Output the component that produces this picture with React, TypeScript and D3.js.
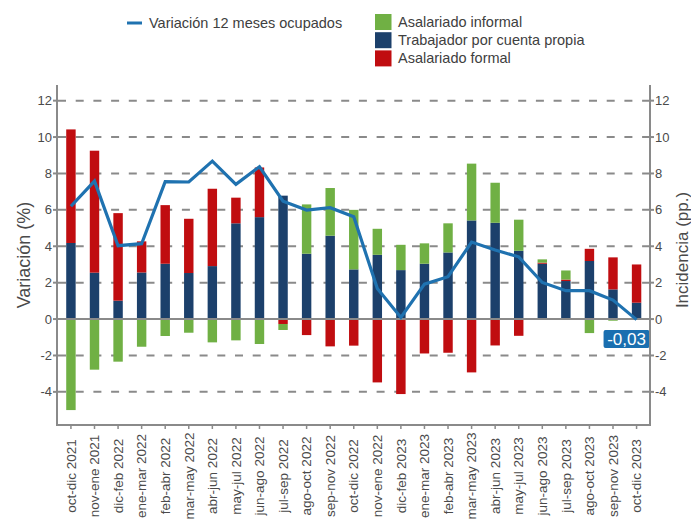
import React from "react";
import * as d3 from "d3";

const categories = ["oct-dic 2021", "nov-ene 2021", "dic-feb 2022", "ene-mar 2022", "feb-abr 2022", "mar-may 2022", "abr-jun 2022", "may-jul 2022", "jun-ago 2022", "jul-sep 2022", "ago-oct 2022", "sep-nov 2022", "oct-dic 2022", "nov-ene 2022", "dic-feb 2023", "ene-mar 2023", "feb-abr 2023", "mar-may 2023", "abr-jun 2023", "may-jul 2023", "jun-ago 2023", "jul-sep 2023", "ago-oct 2023", "sep-nov 2023", "oct-dic 2023"];
const cuentaPropia = [4.18, 2.55, 1.01, 2.56, 3.04, 2.53, 2.91, 5.26, 5.6, 6.78, 3.59, 4.58, 2.73, 3.53, 2.69, 3.04, 3.66, 5.42, 5.29, 3.75, 3.04, 2.09, 3.19, 1.63, 0.9];
const formal = [6.24, 6.7, 4.81, 1.71, 3.22, 2.98, 4.25, 1.41, 2.73, -0.27, -0.88, -1.5, -1.46, -3.48, -4.12, -1.89, -1.85, -2.93, -1.45, -0.92, 0.06, 0.08, 0.67, 1.76, 2.1];
const informal = [-5.0, -2.78, -2.34, -1.52, -0.93, -0.75, -1.28, -1.17, -1.37, -0.33, 2.71, 2.62, 3.27, 1.43, 1.39, 1.12, 1.6, 3.12, 2.2, 1.71, 0.18, 0.5, -0.77, -0.09, 0];
const variacion = [6.2, 7.58, 4.03, 4.14, 7.55, 7.53, 8.68, 7.4, 8.37, 6.48, 5.99, 6.12, 5.62, 1.68, 0.09, 1.92, 2.33, 4.23, 3.79, 3.42, 2.01, 1.56, 1.56, 1.04, -0.03];
const yTicks = [-4, -2, 0, 2, 4, 6, 8, 10, 12];
const lastLabel = "-0,03";

const seriesKeys = ["cuentaPropia", "formal", "informal"];
const seriesColors: Record<string, string> = {
  cuentaPropia: "#1C406B",
  formal: "#C00D10",
  informal: "#70B044",
};
const lineColor = "#1F72B0";
const gridColor = "#8a8a8a";
const textColor = "#4a4a4a";
const FONT = "'Liberation Sans', Arial, sans-serif";

export default function App() {
  const W = 691, H = 521;
  const left = 57, right = 650, top = 85, bottom = 425;

  const rows = categories.map((c, i) => ({
    cat: c,
    cuentaPropia: cuentaPropia[i],
    formal: formal[i],
    informal: informal[i],
  }));

  const x = d3.scaleBand<string>().domain(categories).range([left + 0.5, right]).paddingInner(0.6).paddingOuter(0.37);
  const y = d3.scaleLinear().domain([-5.82, 12.86]).range([bottom, top]);

  const stack = d3.stack<any>().keys(seriesKeys).offset(d3.stackOffsetDiverging);
  const stacked = stack(rows);

  const cx = (c: string) => (x(c) as number) + x.bandwidth() / 2;
  const line = d3.line<number>().x((_, i) => cx(categories[i])).y((d) => y(d));

  const lastX = cx(categories[categories.length - 1]);
  const lastY = y(variacion[variacion.length - 1]);

  return (
    <svg width={W} height={H} style={{ position: "absolute", left: 0, top: 0, fontFamily: FONT }}>
      <rect width={W} height={H} fill="#fff" />
      {/* legend */}
      <g>
        <line x1={127} x2={142} y1={23} y2={23} stroke={lineColor} strokeWidth={3} />
        <text x={149} y={23} dy="0.35em" fontSize={14.5} fill="#404040">Variación 12 meses ocupados</text>
        {[
          ["informal", "Asalariado informal"],
          ["cuentaPropia", "Trabajador por cuenta propia"],
          ["formal", "Asalariado formal"],
        ].map(([k, label], i) => (
          <g key={k}>
            <rect x={375} y={14 + i * 18.2} width={16.5} height={16} fill={seriesColors[k]} />
            <text x={398} y={22 + i * 18.2} dy="0.35em" fontSize={14.5} fill="#404040">{label}</text>
          </g>
        ))}
      </g>
      {/* gridlines */}
      {yTicks.filter((t) => t !== 0).map((t) => (
        <line key={t} x1={left + 1} x2={right} y1={y(t)} y2={y(t)} stroke={gridColor} strokeWidth={2} strokeDasharray="8 9.7" />
      ))}
      {/* bars */}
      {stacked.map((s) => (
        <g key={s.key} fill={seriesColors[s.key]}>
          {s.map((d, i) => {
            const y0 = y(d[0]), y1 = y(d[1]);
            const h = Math.abs(y0 - y1);
            if (h < 0.01) return null;
            return <rect key={i} x={x(categories[i])} width={x.bandwidth()} y={Math.min(y0, y1)} height={h} />;
          })}
        </g>
      ))}
      {/* zero line */}
      <line x1={left} x2={right} y1={y(0)} y2={y(0)} stroke={gridColor} strokeWidth={2} />
      {/* line series */}
      <path d={line(variacion) as string} fill="none" stroke={lineColor} strokeWidth={3.2} strokeLinejoin="miter" />
      {/* last value label */}
      <rect x={lastX - 33} y={lastY + 10.5} width={46} height={18} rx={2} fill="#1A6FB0" />
      <text x={lastX - 10} y={lastY + 19.5} dy="0.36em" textAnchor="middle" fontSize={17} fill="#fff">{lastLabel}</text>
      {/* axes */}
      <line x1={left} x2={left} y1={top} y2={bottom + 1} stroke={gridColor} strokeWidth={2} />
      <line x1={right} x2={right} y1={top} y2={bottom + 1} stroke={gridColor} strokeWidth={2} />
      <line x1={left - 1} x2={right + 1} y1={bottom} y2={bottom} stroke={gridColor} strokeWidth={2} />
      {yTicks.map((t) => (
        <g key={t}>
          <line x1={left - 4} x2={left} y1={y(t)} y2={y(t)} stroke={gridColor} strokeWidth={2} />
          <text x={left - 5} y={y(t)} dy="0.35em" textAnchor="end" fontSize={13} fill={textColor}>{t}</text>
          <line x1={right} x2={right + 4} y1={y(t)} y2={y(t)} stroke={gridColor} strokeWidth={2} />
          <text x={right + 5} y={y(t)} dy="0.35em" textAnchor="start" fontSize={13} fill={textColor}>{t}</text>
        </g>
      ))}
      {categories.map((c) => (
        <g key={c}>
          <line x1={cx(c)} x2={cx(c)} y1={bottom} y2={bottom + 4} stroke={gridColor} strokeWidth={1.5} />
          <text transform={`translate(${cx(c)},476) rotate(-90)`} dy="0.35em" textAnchor="middle" fontSize={13.5} fill={textColor}>{c}</text>
        </g>
      ))}
      <text transform={`translate(24,${(top + bottom) / 2}) rotate(-90)`} dy="0.35em" textAnchor="middle" fontSize={18} fill={textColor}>Variación (%)</text>
      <text transform={`translate(682,250) rotate(-90)`} dy="0.35em" textAnchor="middle" fontSize={17} fill={textColor}>Incidencia (pp.)</text>
    </svg>
  );
}
